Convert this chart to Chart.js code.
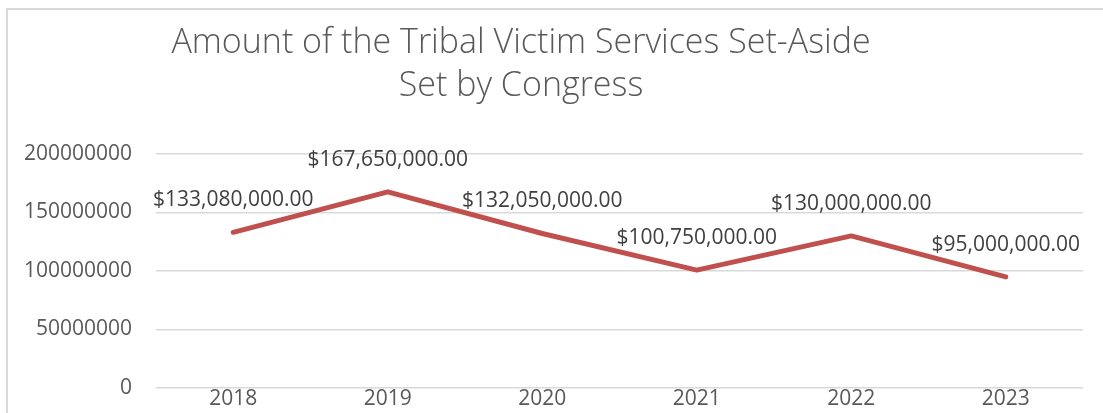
<!DOCTYPE html>
<html>
<head>
<meta charset="utf-8">
<script src="https://cdn.jsdelivr.net/npm/chart.js@4.4.1/dist/chart.umd.min.js"></script>
<style>
    body { margin: 0; background: #fff; }
    #wrap { position: relative; width: 1103px; height: 413px; overflow: hidden; background: #fff; }
    #frame { position: absolute; left: 6px; top: 8px; width: 1200px; height: 500px;
             border-top: 2px solid #d9d9d9; border-left: 2px solid #d9d9d9; }
    #title { position: absolute; left: 121px; width: 800px; top: 19px; text-align: center;
             font-family: "Open Sans", sans-serif; font-weight: 300; font-size: 34px;
             line-height: 43px; color: #595959; }
    canvas { position: absolute; left: 0; top: 0; }
</style>
</head>
<body>
<div id="wrap">
    <div id="frame"></div>
    <canvas id="chart" width="1103" height="413"></canvas>
    <div id="title">Amount of the Tribal Victim Services Set-Aside<br>Set by Congress</div>
</div>
<script>
// dane z wykresu
const years = ['2018', '2019', '2020', '2021', '2022', '2023'];
const setAside = [133080000, 167650000, 132050000, 100750000, 130000000, 95000000];
const yTicks = [0, 50000000, 100000000, 150000000, 200000000];

const money = v => '$' + v.toLocaleString('en-US', { minimumFractionDigits: 2, maximumFractionDigits: 2 });

// etykiety nad punktami
const valueLabels = {
    id: 'valueLabels',
    afterDatasetsDraw(chart) {
        const ctx = chart.ctx;
        const meta = chart.getDatasetMeta(0);
        ctx.save();
        ctx.font = '21px "Open Sans"';
        ctx.fillStyle = '#404040';
        ctx.textAlign = 'center';
        ctx.textBaseline = 'middle';
        meta.data.forEach((pt, i) => {
            ctx.fillText(money(setAside[i]), pt.x, pt.y - 32);
        });
        ctx.restore();
    }
};

new Chart(document.getElementById('chart').getContext('2d'), {
    type: 'line',
    data: {
        labels: years,
        datasets: [{
            data: setAside,
            borderColor: '#C0504D',
            borderWidth: 5,
            borderCapStyle: 'round',
            borderJoinStyle: 'round',
            pointRadius: 0,
            tension: 0,
            fill: false
        }]
    },
    options: {
        responsive: false,
        animation: false,
        layout: { padding: { top: 154, right: 20, left: 0, bottom: 0 } },
        plugins: {
            legend: { display: false },
            tooltip: { enabled: false }
        },
        scales: {
            x: {
                offset: true,
                grid: { display: false, drawTicks: false },
                border: { display: false },
                ticks: { color: '#595959', font: { family: 'Open Sans', size: 21 }, padding: -2, maxRotation: 0 },
                afterFit(scale) { scale.height = 25; }
            },
            y: {
                min: 0,
                max: 200000000,
                afterBuildTicks(scale) { scale.ticks = yTicks.map(v => ({ value: v })); },
                grid: { color: '#d9d9d9', lineWidth: 1.5, drawTicks: false },
                border: { display: false },
                ticks: { color: '#595959', font: { family: 'Open Sans', size: 21 }, padding: 24,
                         callback: v => String(v) },
                afterFit(scale) {
                    scale.width = 156;
                    scale.paddingTop = 0;
                    scale.paddingBottom = 0;
                }
            }
        }
    },
    plugins: [valueLabels]
});
</script>
</body>
</html>
